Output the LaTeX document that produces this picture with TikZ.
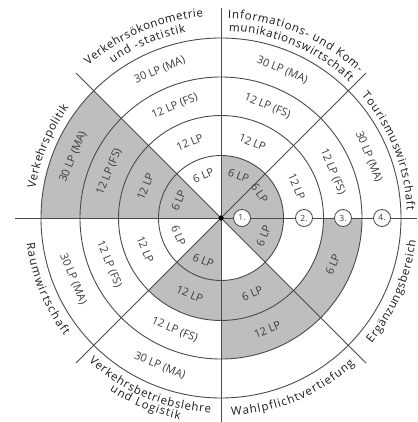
\documentclass[tikz,border=0pt]{standalone}
\usepackage{fontspec}
\setmainfont{Open Sans}
\usetikzlibrary{decorations.text}
\definecolor{fillgray}{RGB}{190,190,190}
\definecolor{linegray}{RGB}{75,75,75}
\definecolor{txtgray}{RGB}{60,60,60}
\definecolor{lblcol}{RGB}{25,25,25}
\newcommand\ringfont{\fontsize{11}{13}\selectfont}
\newcommand\lblfont{\fontsize{11.5}{13}\selectfont}
% annular sector: start angle, end angle, inner r, outer r
\newcommand\annsec[4]{\fill[fillgray] (#1:#3) arc[start angle=#1,end angle=#2,radius=#3] -- (#2:#4) arc[start angle=#2,end angle=#1,radius=#4] -- cycle;}
% text along an arc: start angle, end angle, radius, alignment, colour, font, text
\newcommand\arctext[7]{\path[decorate,decoration={text along path,text align=#4,text color=#5,text={|#6|#7}}] (#1:#3) arc[start angle=#1,end angle=#2,radius=#3];}
\tikzset{
  wheel/.style={draw=linegray,line width=0.9pt},
  marker/.style={circle,draw=linegray,fill=white,line width=0.8pt,minimum size=17pt,inner sep=0pt,font=\fontsize{8.5}{9}\selectfont,text=txtgray},
  hub/.style={circle,fill=black,minimum size=5pt,inner sep=0pt},
  ringlab/.style={font=\ringfont,text=txtgray,inner sep=0pt},
}
\begin{document}
\begin{tikzpicture}
\useasboundingbox (-221pt,-204pt) rectangle (196pt,218pt);
% shaded sectors
\fill[fillgray] (0,0) -- (135:180pt) arc[start angle=135,end angle=180,radius=180pt] -- cycle;
\fill[fillgray] (0,0) -- (-45:62.5pt) arc[start angle=-45,end angle=90,radius=62.5pt] -- cycle;
\fill[fillgray] (0,0) -- (-135:62.5pt) arc[start angle=-135,end angle=-90,radius=62.5pt] -- cycle;
\annsec{-135}{-45}{62.5pt}{102.5pt}
\annsec{-90}{0}{102.5pt}{141pt}
% circles
\node[hub] (c) at (0,0) {};
\draw[wheel] (c.center) circle[radius=62.5pt];
\draw[wheel] (c.center) circle[radius=102.5pt];
\draw[wheel] (c.center) circle[radius=141pt];
\draw[wheel] (c.center) circle[radius=180pt];
% spokes
\coordinate (sE) at (0:196pt);
\coordinate (sNE) at (45:205pt);
\coordinate (sN) at (90:210pt);
\coordinate (sNW) at (135:205pt);
\coordinate (sW) at (180:206pt);
\coordinate (sSW) at (-135:205pt);
\coordinate (sS) at (-90:204pt);
\coordinate (sSE) at (-45:205pt);
\foreach \s in {sE,sNE,sN,sNW,sW,sSW,sS,sSE} \draw[wheel] (c.center) -- (\s);
\node[hub] at (c) {};
% ring labels, upper half
\foreach \a/\t/\n in {157.5/6 LP/a,112.5/6 LP/b,67.5/6 LP/c,33/6 LP/d}{
  \pgfmathsetmacro\rot{\a-90}
  \node[ringlab,rotate=\rot] (r1\n) at (\a:46pt) {\t};}
\foreach \a/\n in {157.5/a,112.5/b,67.5/c,22.5/d}{
  \pgfmathsetmacro\rot{\a-90}
  \node[ringlab,rotate=\rot] (r2\n) at (\a:82pt) {12 LP};
  \node[ringlab,rotate=\rot] (r3\n) at (\a:121pt) {12 LP (FS)};
  \node[ringlab,rotate=\rot] (r4\n) at (\a:160pt) {30 LP (MA)};}
% ring labels, lower half
\foreach \a/\n in {-157.5/h,-112.5/g}{
  \pgfmathsetmacro\rot{\a+90}
  \node[ringlab,rotate=\rot] (r1\n) at (\a:46pt) {6 LP};
  \node[ringlab,rotate=\rot] (r2\n) at (\a:82pt) {12 LP};
  \node[ringlab,rotate=\rot] (r3\n) at (\a:121pt) {12 LP (FS)};
  \node[ringlab,rotate=\rot] (r4\n) at (\a:160pt) {30 LP (MA)};}
\node[ringlab,rotate=67.5] (r1e) at (-22.5:46pt) {6 LP};
\node[ringlab,rotate=67.5] (r3e) at (-22.5:121pt) {6 LP};
\node[ringlab,rotate=22.5] (r2f) at (-67.5:82pt) {6 LP};
\node[ringlab,rotate=22.5] (r3f) at (-67.5:121pt) {12 LP};
% markers on the axis
\node[marker] (m1) at (21pt,0) {1.};
\node[marker] (m2) at (83pt,0) {2.};
\node[marker] (m3) at (122pt,0) {3.};
\node[marker] (m4) at (161pt,0) {4.};
% outer labels, upper half
\arctext{88}{46.5}{200pt}{fit to path}{lblcol}{\lblfont}{Informations- und Kom-}
\arctext{87.6}{46.7}{187pt}{fit to path}{lblcol}{\lblfont}{munikationswirtschaft}
\arctext{131}{95}{202pt}{fit to path}{lblcol}{\lblfont}{Verkehrsökonometrie}
\arctext{125}{100.7}{189pt}{fit to path}{lblcol}{\lblfont}{und -statistik}
\arctext{171}{144}{188pt}{fit to path}{lblcol}{\lblfont}{Verkehrspolitik}
\arctext{41}{2.4}{186pt}{fit to path}{lblcol}{\lblfont}{Tourismuswirtschaft}
% outer labels, lower half
\arctext{-172.5}{-143}{196pt}{fit to path}{lblcol}{\lblfont}{Raumwirtschaft}
\arctext{-39.8}{-6.6}{196pt}{fit to path}{lblcol}{\lblfont}{Ergänzungsbereich}
\arctext{-87}{-47.5}{198pt}{fit to path}{lblcol}{\lblfont}{Wahlpflichtvertiefung}
\arctext{-132.7}{-93}{195pt}{fit to path}{lblcol}{\lblfont}{Verkehrsbetriebslehre}
\arctext{-122.8}{-101.6}{205.5pt}{fit to path}{lblcol}{\lblfont}{und Logistik}
\end{tikzpicture}
\end{document}
